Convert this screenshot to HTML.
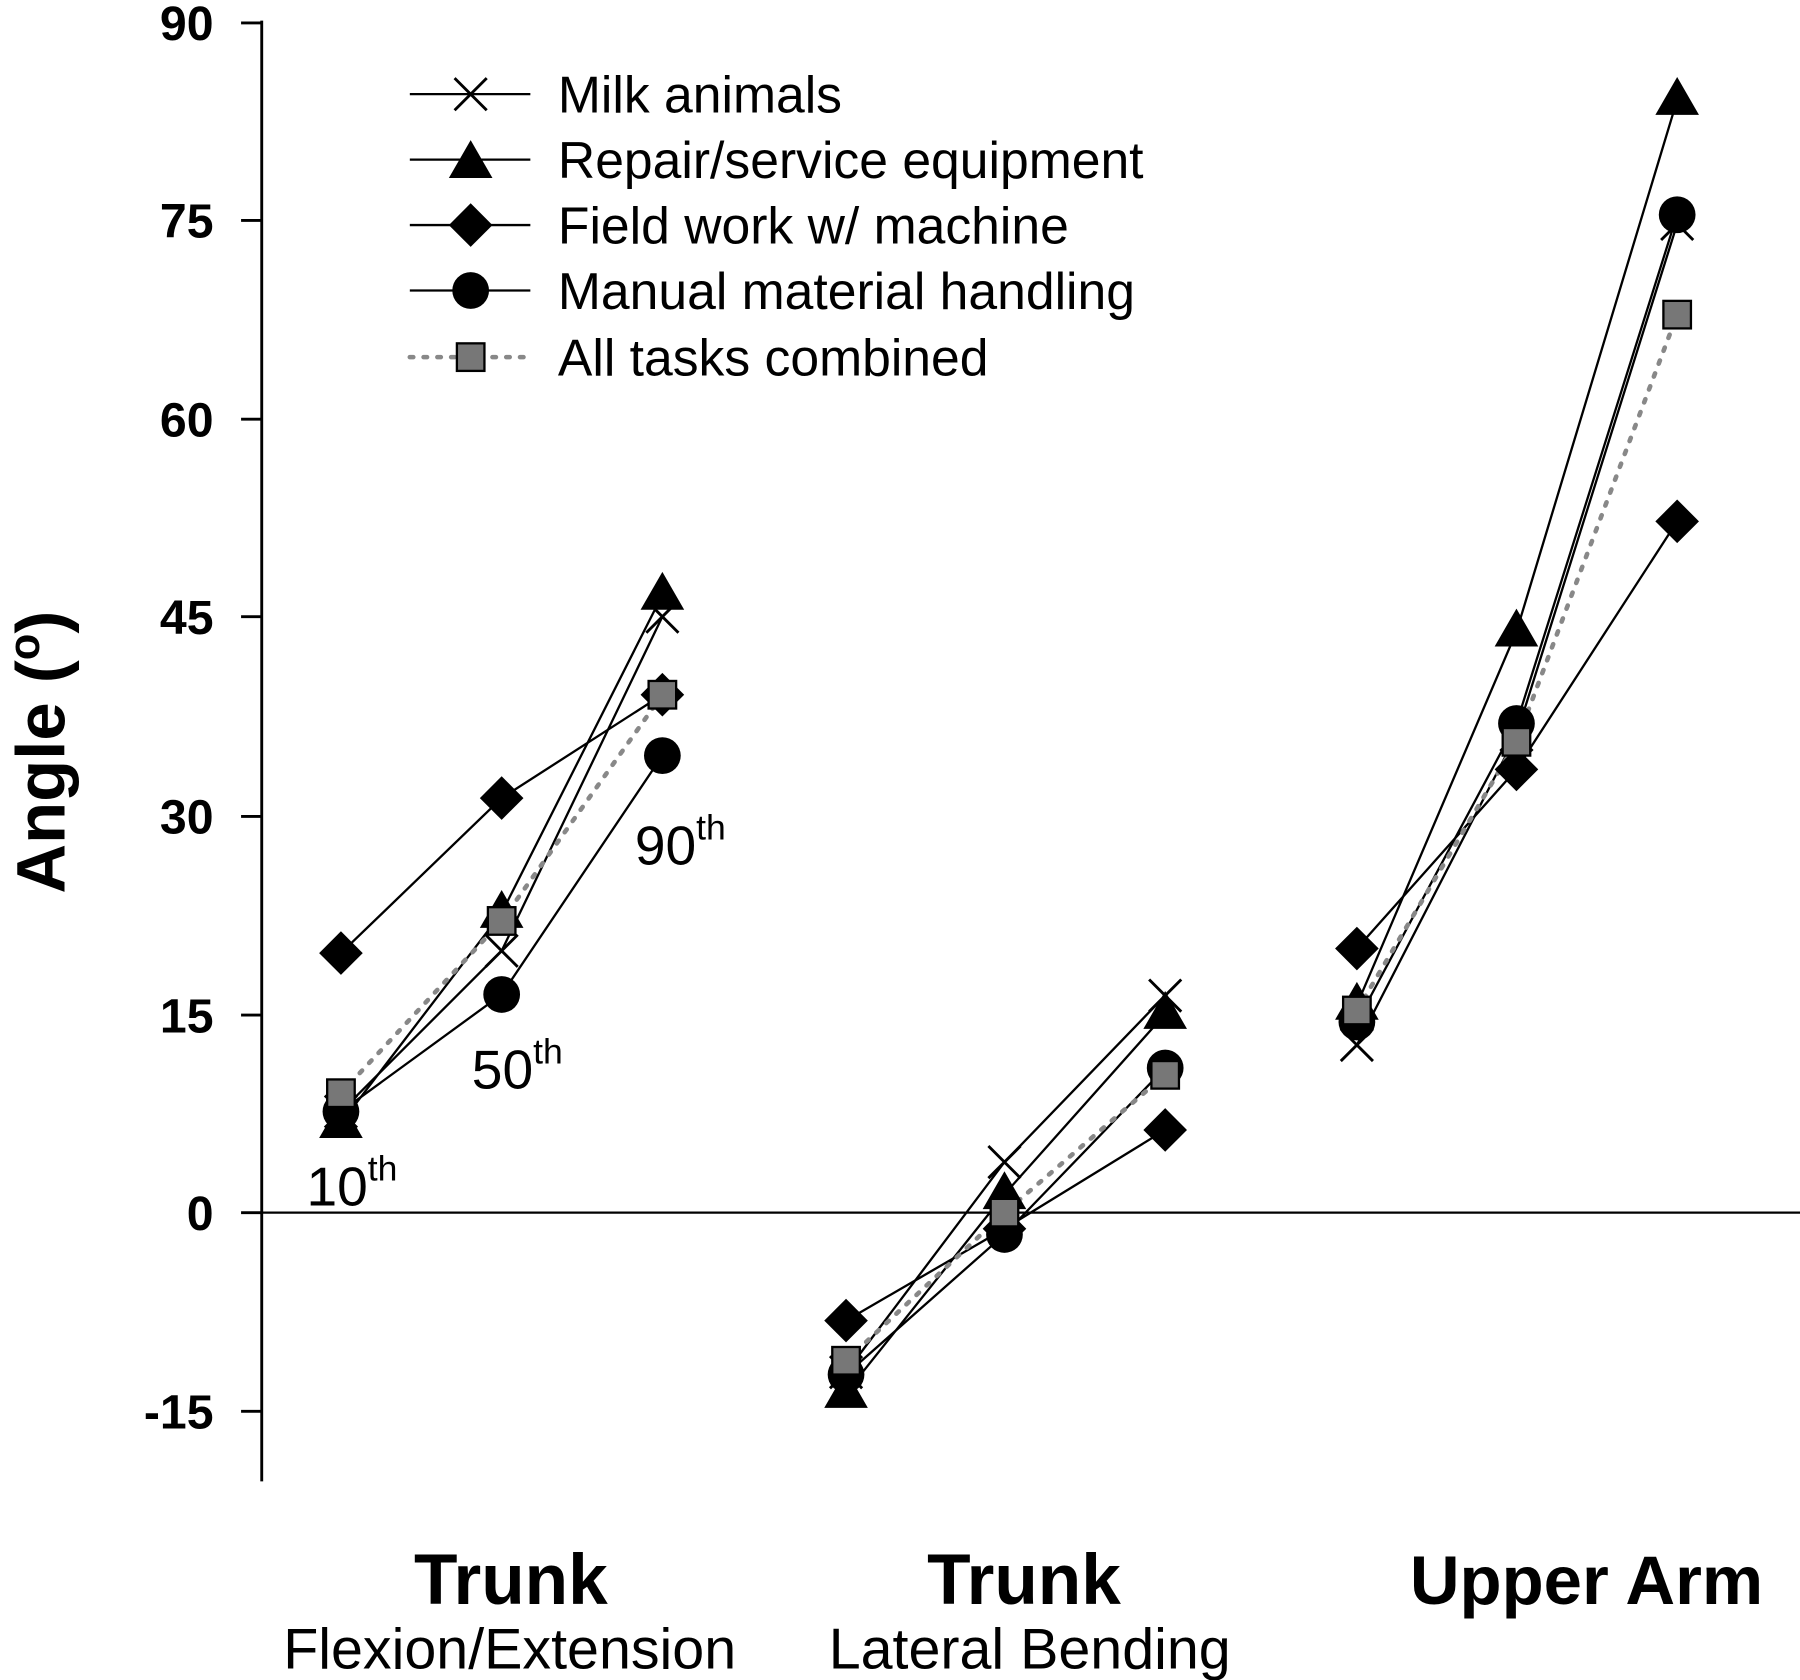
<!DOCTYPE html>
<html><head><meta charset="utf-8"><style>html,body{margin:0;padding:0;background:#fff}svg{display:block}</style></head>
<body>
<svg width="1800" height="1680" viewBox="0 0 1568 1463" preserveAspectRatio="none" xmlns="http://www.w3.org/2000/svg" font-family="Liberation Sans, Arial, sans-serif">
<defs>
<g id="tri"><polygon points="0,-20 19,13 -19,13" fill="#000"/></g>
<g id="dia"><polygon points="0,-19 19,0 0,19 -19,0" fill="#000"/></g>
<g id="cir"><circle r="16" fill="#000"/></g>
<g id="sq"><rect x="-12" y="-12" width="24" height="24" fill="#777" stroke="#000" stroke-width="2"/></g>
<g id="xx"><path d="M-14,-14L14,14M-14,14L14,-14" stroke="#000" stroke-width="2.5" fill="none"/></g>
</defs>
<line x1="228" y1="18" x2="228" y2="1290" stroke="#000" stroke-width="2.5"/>
<line x1="228" y1="1056" x2="1568" y2="1056" stroke="#000" stroke-width="2"/>
<g stroke="#000" stroke-width="2.5">
<line x1="210" y1="20" x2="228" y2="20"/><line x1="210" y1="192" x2="228" y2="192"/><line x1="210" y1="365" x2="228" y2="365"/><line x1="210" y1="537" x2="228" y2="537"/><line x1="210" y1="711" x2="228" y2="711"/><line x1="210" y1="884" x2="228" y2="884"/><line x1="210" y1="1056" x2="228" y2="1056"/><line x1="210" y1="1229" x2="228" y2="1229"/>
</g>
<g font-size="42" font-weight="bold" text-anchor="end">
<text x="186" y="35">90</text><text x="186" y="207">75</text><text x="186" y="380">60</text><text x="186" y="552">45</text><text x="186" y="726">30</text><text x="186" y="899">15</text><text x="186" y="1071">0</text><text x="186" y="1244">-15</text>
</g>
<text transform="translate(56,655) rotate(-90)" font-size="60" font-weight="bold" text-anchor="middle">Angle (<tspan font-size="38" dy="-22">o</tspan><tspan dy="22">)</tspan></text>
<g fill="none" stroke="#000" stroke-width="2">
<polyline points="297,968 437,828 577,537"/><polyline points="297,978 437,795 577,518"/><polyline points="297,830 437,695 577,605"/><polyline points="297,968 437,866 577,658"/>
<polyline points="737,1195 875,1012 1015,867"/><polyline points="737,1213 875,1040 1015,883"/><polyline points="737,1150 875,1070 1015,984"/><polyline points="737,1197 875,1075 1015,930"/>
<polyline points="1182,910 1321,640 1461,195"/><polyline points="1182,875 1321,550 1461,87"/><polyline points="1182,826 1321,670 1461,454"/><polyline points="1182,890 1321,630 1461,187"/>
</g>
<g fill="none" stroke="#888" stroke-width="4" stroke-dasharray="3,9" stroke-linecap="round">
<polyline points="297,952 437,802 577,605"/><polyline points="737,1185 875,1056 1015,936"/><polyline points="1182,880 1321,646 1461,274"/>
</g>
<use href="#dia" x="297" y="830"/><use href="#dia" x="437" y="695"/><use href="#dia" x="577" y="605"/>
<use href="#cir" x="297" y="968"/><use href="#cir" x="437" y="866"/><use href="#cir" x="577" y="658"/>
<use href="#tri" x="297" y="978"/><use href="#tri" x="437" y="795"/><use href="#tri" x="577" y="518"/>
<use href="#xx" x="297" y="968"/><use href="#xx" x="437" y="828"/><use href="#xx" x="577" y="537"/>
<use href="#sq" x="297" y="952"/><use href="#sq" x="437" y="802"/><use href="#sq" x="577" y="605"/>
<use href="#dia" x="737" y="1150"/><use href="#dia" x="875" y="1070"/><use href="#dia" x="1015" y="984"/>
<use href="#cir" x="737" y="1197"/><use href="#cir" x="875" y="1075"/><use href="#cir" x="1015" y="930"/>
<use href="#tri" x="737" y="1213"/><use href="#tri" x="875" y="1040"/><use href="#tri" x="1015" y="883"/>
<use href="#xx" x="737" y="1195"/><use href="#xx" x="875" y="1012"/><use href="#xx" x="1015" y="867"/>
<use href="#sq" x="737" y="1185"/><use href="#sq" x="875" y="1056"/><use href="#sq" x="1015" y="936"/>
<use href="#dia" x="1182" y="826"/><use href="#dia" x="1321" y="670"/><use href="#dia" x="1461" y="454"/>
<use href="#cir" x="1182" y="890"/><use href="#cir" x="1321" y="630"/><use href="#cir" x="1461" y="187"/>
<use href="#tri" x="1182" y="875"/><use href="#tri" x="1321" y="550"/><use href="#tri" x="1461" y="87"/>
<use href="#xx" x="1182" y="910"/><use href="#xx" x="1321" y="640"/><use href="#xx" x="1461" y="195"/>
<use href="#sq" x="1182" y="880"/><use href="#sq" x="1321" y="646"/><use href="#sq" x="1461" y="274"/>
<g font-size="48">
<text x="267" y="1050">10<tspan font-size="31" dy="-22">th</tspan></text>
<text x="411" y="948">50<tspan font-size="31" dy="-22">th</tspan></text>
<text x="553" y="753">90<tspan font-size="31" dy="-22">th</tspan></text>
</g>
<g stroke="#000" stroke-width="2">
<line x1="357" y1="82" x2="462" y2="82"/><line x1="357" y1="139" x2="462" y2="139"/><line x1="357" y1="196" x2="462" y2="196"/><line x1="357" y1="253" x2="462" y2="253"/>
</g>
<line x1="357" y1="311" x2="462" y2="311" stroke="#888" stroke-width="4" stroke-dasharray="3,9" stroke-linecap="round"/>
<use href="#xx" x="410" y="82"/><use href="#tri" x="410" y="142"/><use href="#dia" x="410" y="196"/><use href="#cir" x="410" y="253"/><use href="#sq" x="410" y="311"/>
<g font-size="45">
<text x="486" y="98">Milk animals</text>
<text x="486" y="155">Repair/service equipment</text>
<text x="486" y="212">Field work w/ machine</text>
<text x="486" y="269">Manual material handling</text>
<text x="486" y="327">All tasks combined</text>
</g>
<g text-anchor="middle">
<text x="445" y="1397" font-size="62" font-weight="bold">Trunk</text>
<text x="444" y="1453" font-size="50">Flexion/Extension</text>
<text x="892" y="1397" font-size="62" font-weight="bold">Trunk</text>
<text x="897" y="1453" font-size="50">Lateral Bending</text>
<text x="1382" y="1397" font-size="60" font-weight="bold">Upper Arm</text>
</g>
</svg>
</body></html>
